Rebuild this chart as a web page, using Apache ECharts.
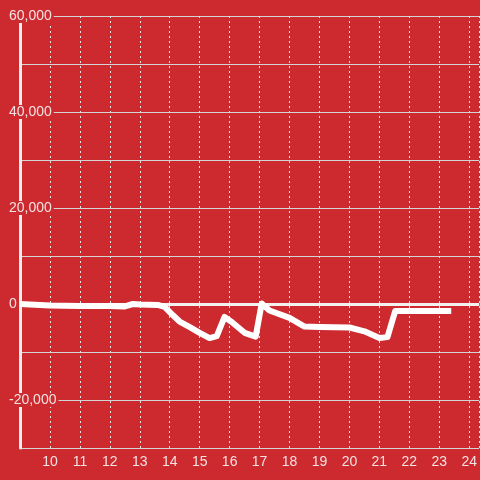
<!DOCTYPE html>
<html>
<head>
<meta charset="utf-8">
<script src="https://cdn.jsdelivr.net/npm/echarts@6/dist/echarts.min.js"></script>
<style>
  html, body { margin: 0; padding: 0; background: #cc2a2f; }
  #chart { width: 480px; height: 480px; }
</style>
</head>
<body>
<div id="chart"></div>
<script>
// hour of day vs running value
const hours = [9, 10, 11, 12, 12.5, 12.77, 13, 13.6, 13.83, 14.1, 14.33, 14.67, 15, 15.33, 15.57, 15.83, 16.07, 16.5, 16.87, 17.07, 17.33, 18, 18.5, 19, 20, 20.5, 21, 21.27, 21.53, 23.4];
const values = [0, -300, -400, -400, -500, 0, -100, -200, -600, -2300, -3650, -4800, -6000, -7100, -6700, -2700, -3750, -6000, -6800, 100, -1350, -2900, -4700, -4800, -4900, -5700, -7100, -6900, -1450, -1450];

const bg = '#cc2a2f';
const labelColor = '#f3e2e2';

const chart = echarts.init(document.getElementById('chart'));

const option = {
  backgroundColor: bg,
  animation: false,
  grid: {
    left: 20,
    right: 0,
    top: 16,
    bottom: 32,
  },
  xAxis: {
    type: 'value',
    min: 9,
    max: 24.333,
    interval: 1,
    axisLine: { show: false },
    axisTick: { show: false },
    axisLabel: {
      color: labelColor,
      fontSize: 14,
      fontFamily: 'Liberation Sans',
      margin: 7,
      showMinLabel: false,
      showMaxLabel: false,
      formatter: (v) => (Number.isInteger(v) ? String(v) : ''),
    },
    splitLine: {
      show: true,
      lineStyle: { color: '#e6e6e6', type: [2, 3], width: 1 },
    },
  },
  yAxis: {
    type: 'value',
    min: -30000,
    max: 60000,
    interval: 10000,
    axisLine: { show: true, lineStyle: { color: '#eeeeee', width: 3 } },
    axisTick: { show: false },
    axisLabel: {
      color: labelColor,
      fontSize: 14,
      fontFamily: 'Liberation Sans',
      align: 'left',
      margin: 13,
      backgroundColor: bg,
      padding: [0, 2],
      formatter: (v) => (v % 20000 === 0 ? v.toLocaleString('en-US') : ''),
    },
    splitLine: {
      show: true,
      lineStyle: { color: '#d4d4d4', width: 1 },
    },
  },
  series: [
    {
      type: 'line',
      data: hours.map((h, i) => [h, values[i]]),
      symbol: 'none',
      lineStyle: { color: '#ffffff', width: 6, join: 'round', cap: 'butt' },
      markLine: {
        silent: true,
        symbol: 'none',
        label: { show: false },
        lineStyle: { color: '#f5f0f0', width: 3, type: 'solid' },
        data: [{ yAxis: 0 }],
        z: 1,
      },
    },
  ],
};

chart.setOption(option);
</script>
</body>
</html>
